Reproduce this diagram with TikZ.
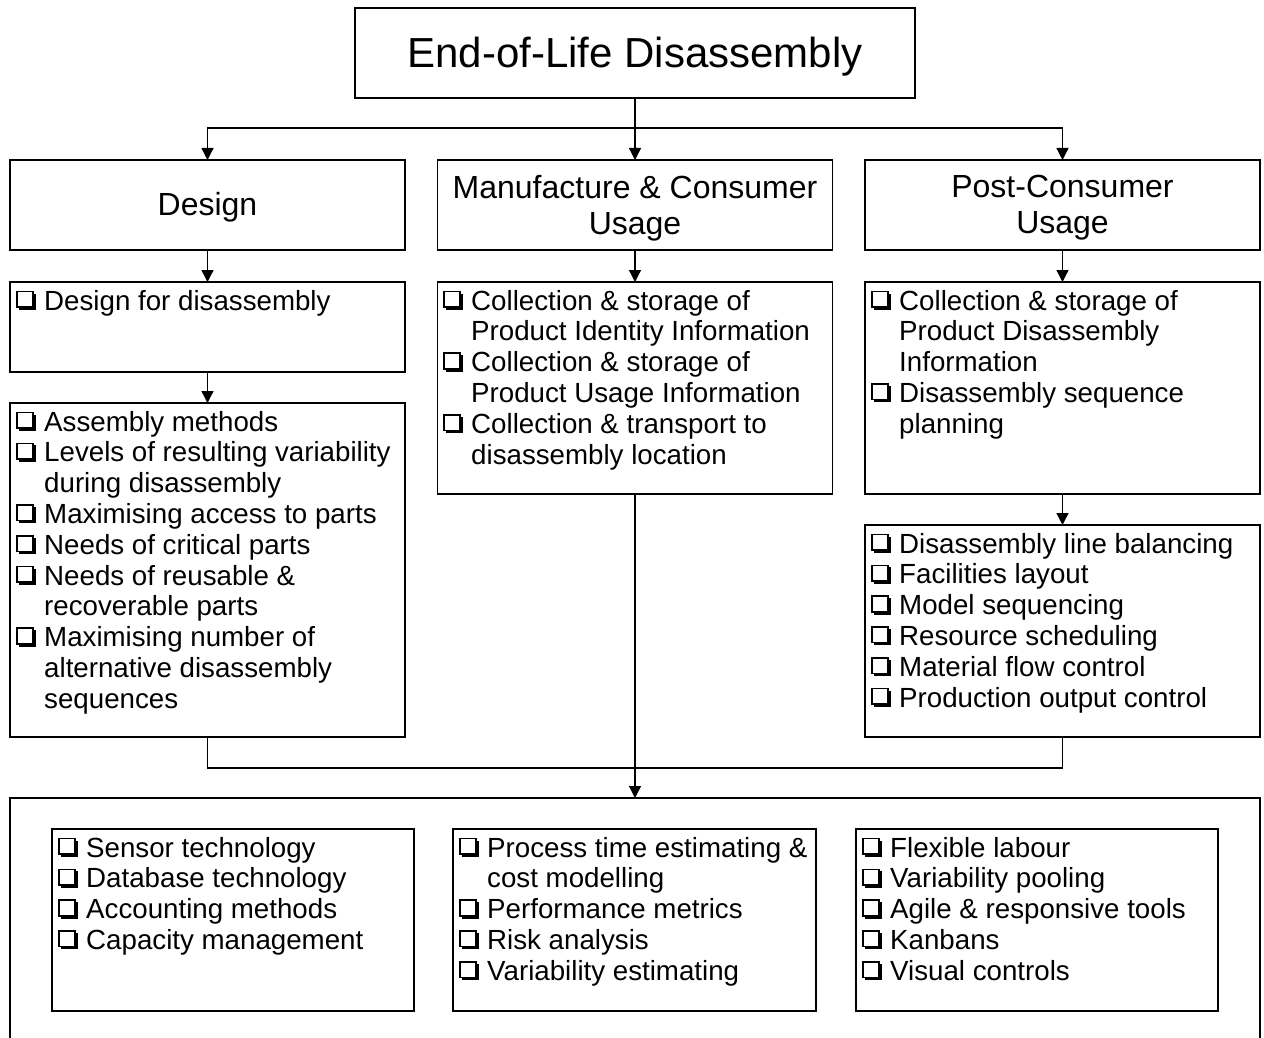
\documentclass[tikz,border=0pt]{standalone}
\usepackage{fontspec}
\setmainfont{Liberation Sans}
\usetikzlibrary{arrows.meta}
\newcommand{\cbx}{\tikz[baseline=0pt,x=1pt,y=1pt]{\fill[black] (3,0) rectangle (20,16.5); \filldraw[fill=white,draw=black,line width=1.6pt] (0.8,2.8) rectangle (16.6,18.5);}\hspace{8pt}}
\newcommand{\ind}{\hspace*{28pt}}
\tikzset{
  box/.style={draw=black, line width=1.1pt, anchor=north west, minimum width=395pt, inner sep=0pt, outer sep=0pt},
  ibox/.style={draw=black, line width=1.1pt, anchor=north west, minimum height=182pt, inner sep=0pt, outer sep=0pt},
  head/.style={align=center, font=\fontsize{32}{36}\selectfont, inner sep=0pt},
  lst/.style={anchor=base west, inner sep=0pt, font=\fontsize{27.7}{30.8}\selectfont},
  arr/.style={line width=1.3pt, -{Triangle[width=12pt,length=12pt]}},
  conn/.style={line width=1.3pt}
}
\begin{document}
\begin{tikzpicture}[x=1pt,y=-1pt]
\fill[white] (0,0) rectangle (1264,1038);
\path[use as bounding box] (0,0) rectangle (1264,1038);
\clip (0,0) rectangle (1264,1038);

% boxes
\node[box, minimum width=560pt, minimum height=90pt] (title) at (355,8) {};
\node[box, minimum height=90pt] (design) at (10,160) {};
\node[box, minimum height=90pt] (manu) at (437.5,160) {};
\node[box, minimum height=90pt] (post) at (865,160) {};
\node[box, minimum height=90pt] (dfd) at (10,282) {};
\node[box, minimum height=334pt] (asm) at (10,403) {};
\node[box, minimum height=212pt] (manl) at (437.5,282) {};
\node[box, minimum height=212pt] (postl1) at (865,282) {};
\node[box, minimum height=212pt] (postl2) at (865,525) {};
\node[box, minimum width=1250pt, minimum height=320pt] (bottom) at (10,798) {};
\node[ibox, minimum width=362pt] (in1) at (52,829) {};
\node[ibox, minimum width=363pt] (in2) at (453,829) {};
\node[ibox, minimum width=362pt] (in3) at (856,829) {};

% headings
\node[inner sep=0pt, font=\fontsize{42}{46}\selectfont] (title-t) at ([yshift=-4pt]title.center) {End-of-Life Disassembly};
\node[head] (design-t) at ([yshift=-2pt]design.center) {Design};
\node[head] (manu-t) at ([yshift=-3pt]manu.center) {Manufacture \& Consumer\\Usage};
\node[head] (post-t) at ([yshift=-3pt]post.center) {Post-Consumer\\Usage};

% lists
\node[lst] (dfd-t) at (16,310) {\begin{tabular}[t]{@{}l@{}}\cbx Design for disassembly\end{tabular}};
\node[lst] (asm-t) at (16,431) {\begin{tabular}[t]{@{}l@{}}
\cbx Assembly methods\\
\cbx Levels of resulting variability\\
\ind during disassembly\\
\cbx Maximising access to parts\\
\cbx Needs of critical parts\\
\cbx Needs of reusable \&\\
\ind recoverable parts\\
\cbx Maximising number of\\
\ind alternative disassembly\\
\ind sequences
\end{tabular}};
\node[lst] (manl-t) at (443,310) {\begin{tabular}[t]{@{}l@{}}
\cbx Collection \& storage of\\
\ind Product Identity Information\\
\cbx Collection \& storage of\\
\ind Product Usage Information\\
\cbx Collection \& transport to\\
\ind disassembly location
\end{tabular}};
\node[lst] (postl1-t) at (871,310) {\begin{tabular}[t]{@{}l@{}}
\cbx Collection \& storage of\\
\ind Product Disassembly\\
\ind Information\\
\cbx Disassembly sequence\\
\ind planning
\end{tabular}};
\node[lst] (postl2-t) at (871,553) {\begin{tabular}[t]{@{}l@{}}
\cbx Disassembly line balancing\\
\cbx Facilities layout\\
\cbx Model sequencing\\
\cbx Resource scheduling\\
\cbx Material flow control\\
\cbx Production output control
\end{tabular}};
\node[lst] (in1-t) at (58,857) {\begin{tabular}[t]{@{}l@{}}
\cbx Sensor technology\\
\cbx Database technology\\
\cbx Accounting methods\\
\cbx Capacity management
\end{tabular}};
\node[lst] (in2-t) at (459,857) {\begin{tabular}[t]{@{}l@{}}
\cbx Process time estimating \&\\
\ind cost modelling\\
\cbx Performance metrics\\
\cbx Risk analysis\\
\cbx Variability estimating
\end{tabular}};
\node[lst] (in3-t) at (862,857) {\begin{tabular}[t]{@{}l@{}}
\cbx Flexible labour\\
\cbx Variability pooling\\
\cbx Agile \& responsive tools\\
\cbx Kanbans\\
\cbx Visual controls
\end{tabular}};

% connectors
\coordinate (j) at (635,128);
\coordinate (k) at (635,768);
\draw[arr] (title.south) -- (manu.north);
\draw[arr] (j) -| (design.north);
\draw[arr] (j) -| (post.north);
\draw[arr] (design.south) -- (dfd.north);
\draw[arr] (dfd.south) -- (asm.north);
\draw[arr] (manu.south) -- (manl.north);
\draw[arr] (post.south) -- (postl1.north);
\draw[arr] (postl1.south) -- (postl2.north);
\draw[conn] (asm.south) |- (k) -| (postl2.south);
\draw[arr] (manl.south) -- (bottom.north);
\end{tikzpicture}
\end{document}
